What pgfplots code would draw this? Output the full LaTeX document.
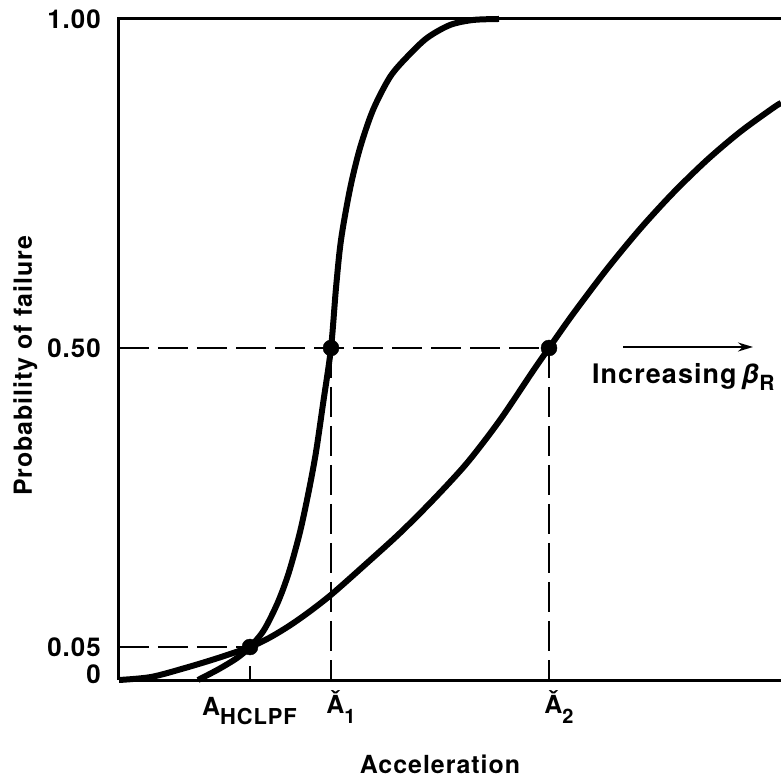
\documentclass[border=0pt]{standalone}
\usepackage{fontspec}
\setmainfont{TeX Gyre Heros}[LetterSpace=4]
\usepackage{pgfplots}
\pgfplotsset{compat=1.18}
\usetikzlibrary{arrows.meta}
\begin{document}
\begin{tikzpicture}[every node/.style={font=\fontsize{25}{29}\selectfont\bfseries}]
\begin{axis}[
  name=ax,
  scale only axis, width=662bp, height=661bp,
  xmin=0, xmax=662, ymin=0, ymax=661,
  clip=false,
  axis lines=left,
  axis line style={-, line width=3bp},
  xtick=\empty,
  ytick={33,332,661},
  yticklabels={0.05,0.50,1.00},
  extra y ticks={0},
  extra y tick labels={0},
  extra y tick style={yticklabel style={yshift=6bp}},
  major tick length=0pt,
  tick label style={font=\fontsize{26}{30}\selectfont\bfseries},
  yticklabel style={anchor=east, inner sep=0pt, xshift=-18bp},
]
% top border
\draw[line width=3bp, line cap=rect] (axis cs:0,661) -- (axis cs:662,661);
% dashed guides
\addplot[line width=1.8bp, dash pattern=on 30bp off 9bp] coordinates {(0,33) (131,33)};
\addplot[line width=1.8bp, dash pattern=on 30bp off 9bp] coordinates {(0,332) (430,332)};
\addplot[line width=1.8bp, dash pattern=on 30bp off 9bp] coordinates {(212,332) (212,0)};
\addplot[line width=1.8bp, dash pattern=on 30bp off 9bp] coordinates {(430,332) (430,0)};
% small ticks
\addplot[line width=1.8bp] coordinates {(131,0) (131,14)};
\addplot[line width=1.8bp] coordinates {(212,0) (212,14)};
\addplot[line width=1.8bp] coordinates {(430,0) (430,14)};
% steep curve
\addplot[line width=6bp, smooth, tension=0.5] coordinates {
(79,0) (100,11) (118,22) (131,33) (145,50) (159,78) (170,108) (181,148) (190,190) (197,228)
(204,276) (212,332) (217,392) (222,440) (231,491) (241,532) (254,570) (271,603) (288,623)
(308,642) (331,655) (354,660) (380,661)};
% shallow curve
\addplot[line width=6bp, smooth, tension=0.5] coordinates {
(0,0) (32,3) (66,12) (99,22) (131,33) (150,42) (170,54) (190,68) (213,86) (248,117) (281,147)
(314,180) (348,217) (381,260) (414,309) (430,332) (454,366) (488,411) (521,451) (554,487)
(588,520) (621,548) (654,572) (662,577)};
% dots
\addplot[only marks, mark=*, mark size=8bp] coordinates {(131,33) (212,332) (430,332)};
% arrow
\draw[line width=2bp, -{Stealth[length=15bp, width=9bp]}] (axis cs:504,333) -- (axis cs:634,333);
\node[anchor=base west, inner sep=0pt, font=\fontsize{27}{31}\selectfont\bfseries] at (axis cs:473,296)
  {Increasing\,{\itshape β}\raisebox{-7bp}{\fontsize{21}{21}\selectfont R}};
% x labels
\node[anchor=base west, inner sep=0pt] at (axis cs:83,-35)
  {A\raisebox{-9bp}{\fontsize{22}{22}\selectfont HCLPF}};
\node[anchor=base, inner sep=0pt] at (axis cs:222,-33)
  {Ǎ\raisebox{-10bp}{\fontsize{20}{20}\selectfont 1}};
\node[anchor=base, inner sep=0pt] at (axis cs:440,-33)
  {Ǎ\raisebox{-10bp}{\fontsize{20}{20}\selectfont 2}};
\node[anchor=base, inner sep=0pt] at (axis cs:321,-93) {Acceleration};
\node[anchor=base, rotate=90, inner sep=0pt] at (axis cs:-87,314) {Probability of failure};
\end{axis}
\pgfresetboundingbox
\useasboundingbox ([shift={(-119bp,-97bp)}]ax.south west) rectangle ([shift={(662bp,680bp)}]ax.south west);
\end{tikzpicture}
\end{document}
